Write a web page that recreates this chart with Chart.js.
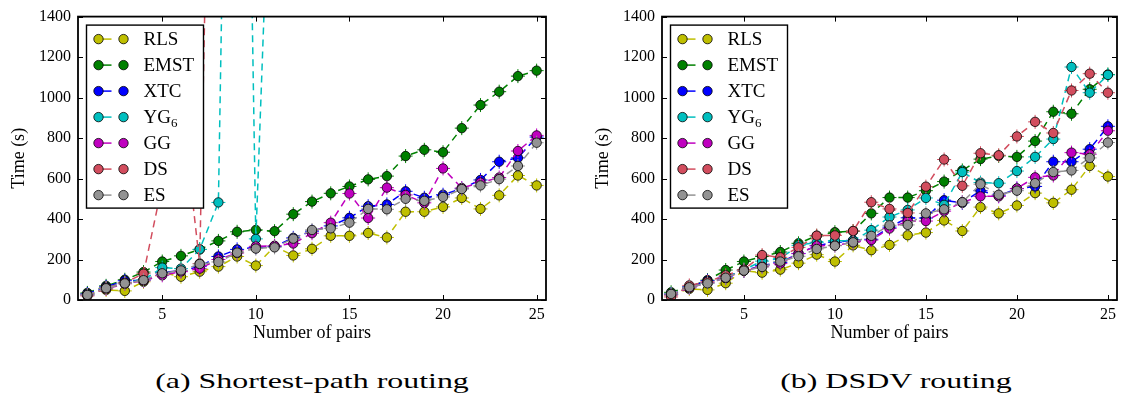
<!DOCTYPE html>
<html>
<head>
<meta charset="utf-8">
<script src="https://cdn.jsdelivr.net/npm/chart.js@4.4.0/dist/chart.umd.min.js"></script>
<style>
body { margin: 0; background: #fff; width: 1131px; height: 396px; position: relative; overflow: hidden; font-family: "Liberation Serif", serif; }
canvas { position: absolute; top: 0; }
#chartA { left: 0; }
#chartB { left: 584px; }
.caption { position: absolute; top: 368px; width: 500px; text-align: center; font-size: 22px; color: #000; transform: scaleX(1.45); }
</style>
</head>
<body>
<canvas id="chartA" width="560" height="350"></canvas>
<canvas id="chartB" width="547" height="350"></canvas>
<div class="caption" style="left:62px">(a) Shortest-path routing</div>
<div class="caption" style="left:646px">(b) DSDV routing</div>
<script>
// number of source/destination pairs
var pairs = [1, 2, 3, 4, 5, 6, 7, 8, 9, 10, 11, 12, 13, 14, 15, 16, 17, 18, 19, 20, 21, 22, 23, 24, 25];
var xTicks = [5, 10, 15, 20, 25];
var seriesNames = ['RLS', 'EMST', 'XTC', 'YG₆', 'GG', 'DS', 'ES'];
var seriesColors = ['#bfbf00', '#008000', '#0000ff', '#00bfbf', '#bf00bf', '#d24d5e', '#939393'];

// (a) shortest-path routing, time (s)
var spRLS  = [30, 50, 45, 90, 135, 115, 140, 165, 215, 170, 265, 220, 253, 317, 317, 331, 309, 436, 436, 460, 504, 450, 517, 615, 566];
var spEMST = [35, 70, 100, 138, 190, 218, 250, 292, 337, 346, 340, 424, 486, 527, 561, 596, 612, 711, 742, 730, 849, 963, 1029, 1106, 1133];
var spXTC  = [30, 65, 95, 97, 135, 145, 165, 215, 250, 260, 265, 307, 340, 366, 406, 463, 472, 537, 505, 520, 550, 593, 683, 702, 805];
var spYG6  = [25, 60, 85, 100, 160, 155, 250, 482, 6000, 302, 2850, null, null, null, null, null, null, null, null, null, null, null, null, null, null];
var spGG   = [25, 55, 80, 95, 122, 140, 155, 200, 232, 265, 268, 279, 330, 382, 526, 405, 555, 519, 480, 650, 553, 580, 605, 736, 813];
var spDS   = [20, 60, 85, 130, 570, 1000, 180, 4800, null, null, null, null, null, null, null, null, null, null, null, null, null, null, null, null, null];
var spES   = [25, 58, 82, 98, 132, 146, 178, 188, 234, 254, 260, 303, 346, 354, 382, 450, 448, 500, 490, 509, 548, 566, 597, 662, 777];

// (b) DSDV routing, time (s)
var dvRLS  = [25, 55, 50, 83, 145, 135, 150, 182, 224, 190, 270, 246, 272, 320, 333, 393, 341, 459, 428, 467, 528, 480, 545, 662, 610];
var dvEMST = [38, 65, 98, 148, 190, 215, 237, 280, 317, 335, 340, 428, 506, 506, 540, 585, 640, 696, 712, 707, 785, 930, 920, 1041, 1114];
var dvXTC  = [30, 65, 95, 115, 145, 170, 185, 230, 268, 285, 295, 300, 360, 406, 405, 493, 480, 540, 515, 550, 561, 683, 683, 745, 858];
var dvYG6  = [28, 62, 85, 110, 150, 192, 205, 270, 285, 293, 293, 345, 410, 445, 504, 470, 632, 580, 577, 637, 707, 795, 1151, 1024, 1112];
var dvGG   = [25, 60, 85, 108, 145, 165, 180, 229, 268, 270, 285, 296, 353, 390, 390, 439, 483, 512, 512, 551, 606, 615, 728, 720, 836];
var dvDS   = [15, 72, 90, 122, 150, 222, 211, 260, 318, 319, 341, 483, 450, 430, 560, 694, 564, 725, 715, 808, 880, 825, 1035, 1118, 1024];
var dvES   = [30, 63, 82, 110, 145, 163, 190, 216, 252, 268, 285, 317, 369, 371, 428, 448, 483, 572, 520, 540, 577, 632, 640, 702, 778];

var serif = '"Liberation Serif", serif';
Chart.defaults.font.family = serif;
Chart.defaults.color = '#000';

function makeDatasets(lists) {
    return lists.map(function (vals, i) {
        return {
            label: seriesNames[i],
            data: pairs.map(function (p, j) { return { x: p, y: vals[j] }; }),
            borderColor: seriesColors[i],
            backgroundColor: seriesColors[i],
            pointBackgroundColor: seriesColors[i],
            pointBorderColor: '#000',
            pointBorderWidth: 0.8,
            pointRadius: 4.7,
            borderWidth: 1.5,
            borderDash: [7, 5],
            tension: 0,
            spanGaps: false,
            order: lists.length - i
        };
    });
}

// small error-bar crosses under each marker
var crosses = {
    id: 'crosses',
    beforeDatasetDraw: function (chart, args) {
        var ctx = chart.ctx, a = chart.chartArea;
        var ds = chart.data.datasets[args.index];
        ctx.save();
        ctx.beginPath();
        ctx.rect(a.left, a.top, a.right - a.left, a.bottom - a.top);
        ctx.clip();
        ctx.strokeStyle = ds.borderColor;
        ctx.lineWidth = 1;
        ctx.beginPath();
        args.meta.data.forEach(function (pt) {
            if (pt.skip) return;
            ctx.moveTo(pt.x, pt.y - 7); ctx.lineTo(pt.x, pt.y + 7);
            ctx.moveTo(pt.x - 7, pt.y); ctx.lineTo(pt.x + 7, pt.y);
        });
        ctx.stroke();
        ctx.restore();
    }
};

// box, inward ticks on all four sides, legend in a framed box
var frameAndLegend = {
    id: 'frameAndLegend',
    afterDraw: function (chart) {
        var ctx = chart.ctx, a = chart.chartArea;
        var xs = chart.scales.x, ys = chart.scales.y;
        ctx.save();
        ctx.strokeStyle = '#000';
        ctx.lineWidth = 1;
        ctx.beginPath();
        xs.ticks.forEach(function (t) {
            var px = Math.round(xs.getPixelForValue(t.value)) + 0.5;
            ctx.moveTo(px, a.bottom); ctx.lineTo(px, a.bottom - 5);
            ctx.moveTo(px, a.top); ctx.lineTo(px, a.top + 5);
        });
        ys.ticks.forEach(function (t) {
            var py = Math.round(ys.getPixelForValue(t.value)) + 0.5;
            ctx.moveTo(a.left, py); ctx.lineTo(a.left + 5, py);
            ctx.moveTo(a.right, py); ctx.lineTo(a.right - 5, py);
        });
        ctx.stroke();
        ctx.lineWidth = 1.8;
        ctx.strokeRect(a.left, a.top, a.right - a.left, a.bottom - a.top);

        // legend
        var x0 = a.left + 8.5, y0 = a.top + 8.5, w = 117, h = 183;
        ctx.fillStyle = '#fff';
        ctx.fillRect(x0, y0, w, h);
        ctx.lineWidth = 1.4;
        ctx.strokeRect(x0, y0, w, h);
        ctx.textBaseline = 'middle';
        chart.data.datasets.forEach(function (ds, i) {
            var y = y0 + 14 + i * 26;
            ctx.strokeStyle = ds.borderColor;
            ctx.lineWidth = 1.5;
            ctx.beginPath();
            ctx.moveTo(x0 + 12, y); ctx.lineTo(x0 + 25, y);
            ctx.stroke();
            [x0 + 12, x0 + 37].forEach(function (mx) {
                ctx.beginPath();
                ctx.arc(mx, y, 4.7, 0, Math.PI * 2);
                ctx.fillStyle = ds.borderColor;
                ctx.fill();
                ctx.lineWidth = 0.8;
                ctx.strokeStyle = '#000';
                ctx.stroke();
            });
            ctx.fillStyle = '#000';
            var label = ds.label;
            var sub = '';
            if (label.indexOf('₆') >= 0) { sub = '6'; label = label.replace('₆', ''); }
            ctx.font = '19px ' + serif;
            ctx.fillText(label, x0 + 57, y + 1);
            if (sub) {
                var lw = ctx.measureText(label).width;
                ctx.font = '13px ' + serif;
                ctx.fillText(sub, x0 + 57 + lw, y + 6);
            }
        });
        ctx.restore();
    }
};

function makeChart(id, lists) {
    return new Chart(document.getElementById(id), {
        type: 'line',
        data: { datasets: makeDatasets(lists) },
        options: {
            responsive: false,
            animation: false,
            devicePixelRatio: 1,
            layout: { padding: { top: 13, right: 14, bottom: 0, left: 0 } },
            plugins: { legend: { display: false }, tooltip: { enabled: false } },
            scales: {
                x: {
                    type: 'linear',
                    min: 0.5,
                    max: 25.5,
                    afterBuildTicks: function (s) { s.ticks = xTicks.map(function (v) { return { value: v }; }); },
                    afterFit: function (s) { s.height = 50; },
                    grid: { display: false, drawTicks: false },
                    border: { display: false },
                    ticks: { padding: 5, font: { size: 16, family: serif }, maxRotation: 0,
                        callback: function (v) { return String(v); } },
                    title: { display: true, text: 'Number of pairs', font: { size: 18, family: serif }, padding: { top: 0, bottom: 6 } }
                },
                y: {
                    min: 0,
                    max: 1400,
                    afterFit: function (s) { s.width = 78; },
                    grid: { display: false, drawTicks: false },
                    border: { display: false },
                    ticks: { stepSize: 200, padding: 7, font: { size: 16, family: serif },
                        callback: function (v) { return String(v); } },
                    title: { display: true, text: 'Time (s)', font: { size: 18, family: serif }, padding: { top: 8, bottom: 0 } }
                }
            }
        },
        plugins: [crosses, frameAndLegend]
    });
}

makeChart('chartA', [spRLS, spEMST, spXTC, spYG6, spGG, spDS, spES]);
makeChart('chartB', [dvRLS, dvEMST, dvXTC, dvYG6, dvGG, dvDS, dvES]);
</script>
</body>
</html>
